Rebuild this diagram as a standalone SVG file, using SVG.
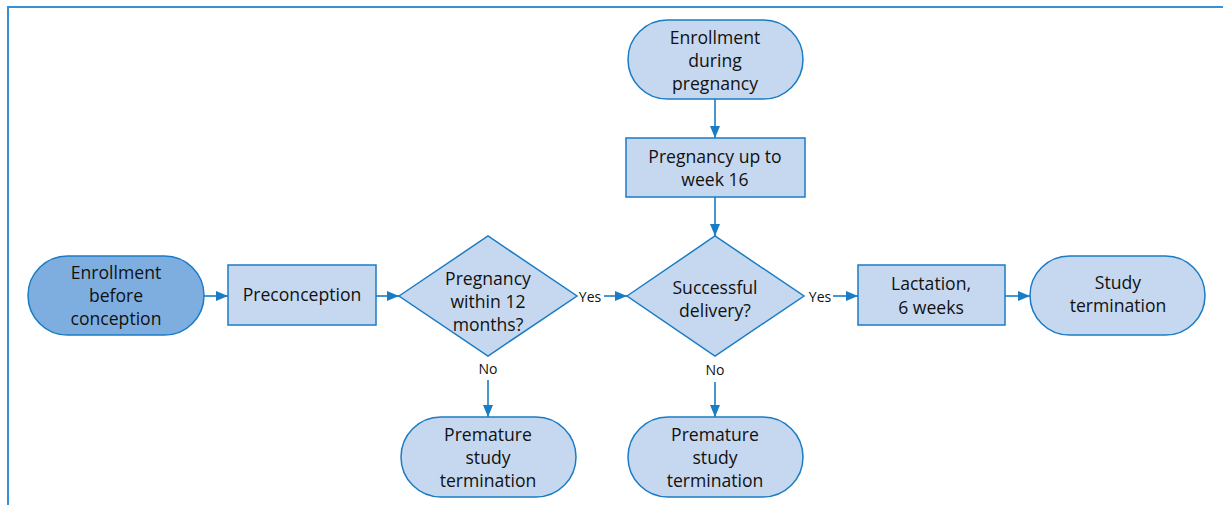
<svg xmlns="http://www.w3.org/2000/svg" width="1223" height="510" viewBox="0 0 1223 510">
<defs>
<style>
.n{fill:#c6d8f0;stroke:#1a7cc4;stroke-width:1.5}
.d{fill:#7eaee0;stroke:#1a7cc4;stroke-width:1.5}
.t{font-family:"Open Sans","Noto Sans",sans-serif;font-size:17.6px;fill:#111;text-anchor:middle}
.l{font-family:"Open Sans","Noto Sans",sans-serif;font-size:14px;fill:#111;text-anchor:middle}
.e{stroke:#1a7cc4;stroke-width:1.6;fill:none;marker-end:url(#a)}
</style>
<marker id="a" viewBox="0 0 12 10" refX="12" refY="5" markerWidth="12" markerHeight="10" markerUnits="userSpaceOnUse" orient="auto">
<path d="M0,0 L12,5 L0,10 Z" fill="#1a7cc4"/>
</marker>
</defs>
<rect width="1223" height="510" fill="#fff"/>
<path d="M8,505 V7 H1223" fill="none" stroke="#3a90d2" stroke-width="2"/>
<g id="connectors">
<line class="e" x1="204" y1="296" x2="228" y2="296"/>
<line class="e" x1="376" y1="296" x2="399" y2="296"/>
<line class="e" x1="604" y1="296" x2="627" y2="296"/>
<text class="l" x="590" y="302">Yes</text>
<line class="e" x1="833" y1="296" x2="858" y2="296"/>
<text class="l" x="820" y="302">Yes</text>
<line class="e" x1="1005" y1="296" x2="1030" y2="296"/>
<line class="e" x1="715" y1="99" x2="715" y2="138"/>
<line class="e" x1="715" y1="197" x2="715" y2="236"/>
<text class="l" x="488" y="374">No</text>
<line class="e" x1="488" y1="380" x2="488" y2="417"/>
<text class="l" x="715" y="375">No</text>
<line class="e" x1="715" y1="382" x2="715" y2="417"/>
</g>
<g id="enroll-before">
<rect class="d" x="28" y="256" width="176" height="79" rx="39.5"/>
<text class="t" x="116" y="279">Enrollment</text>
<text class="t" x="116" y="302">before</text>
<text class="t" x="116" y="325">conception</text>
</g>
<g id="preconception">
<rect class="n" x="228" y="265" width="148" height="60"/>
<text class="t" x="302" y="301">Preconception</text>
</g>
<g id="decision1">
<polygon class="n" points="399,296 488,236 577,296 488,356"/>
<text class="t" x="488" y="285">Pregnancy</text>
<text class="t" x="488" y="308">within 12</text>
<text class="t" x="488" y="331">months?</text>
</g>
<g id="enroll-during">
<rect class="n" x="628" y="20" width="175" height="79" rx="39.5"/>
<text class="t" x="715" y="44">Enrollment</text>
<text class="t" x="715" y="67">during</text>
<text class="t" x="715" y="90">pregnancy</text>
</g>
<g id="week16">
<rect class="n" x="626" y="138" width="179" height="59"/>
<text class="t" x="715" y="163">Pregnancy up to</text>
<text class="t" x="715" y="186">week 16</text>
</g>
<g id="decision2">
<polygon class="n" points="627,296 715,236 804,296 715,356"/>
<text class="t" x="715" y="294">Successful</text>
<text class="t" x="715" y="317">delivery?</text>
</g>
<g id="lactation">
<rect class="n" x="858" y="265" width="147" height="60"/>
<text class="t" x="931" y="290">Lactation,</text>
<text class="t" x="931" y="314">6 weeks</text>
</g>
<g id="study-termination">
<rect class="n" x="1030" y="256" width="175" height="79" rx="39.5"/>
<text class="t" x="1118" y="289">Study</text>
<text class="t" x="1118" y="312">termination</text>
</g>
<g id="premature1">
<rect class="n" x="401" y="417" width="175" height="80" rx="40"/>
<text class="t" x="488" y="441">Premature</text>
<text class="t" x="488" y="464">study</text>
<text class="t" x="488" y="487">termination</text>
</g>
<g id="premature2">
<rect class="n" x="628" y="417" width="175" height="80" rx="40"/>
<text class="t" x="715" y="441">Premature</text>
<text class="t" x="715" y="464">study</text>
<text class="t" x="715" y="487">termination</text>
</g>
</svg>
